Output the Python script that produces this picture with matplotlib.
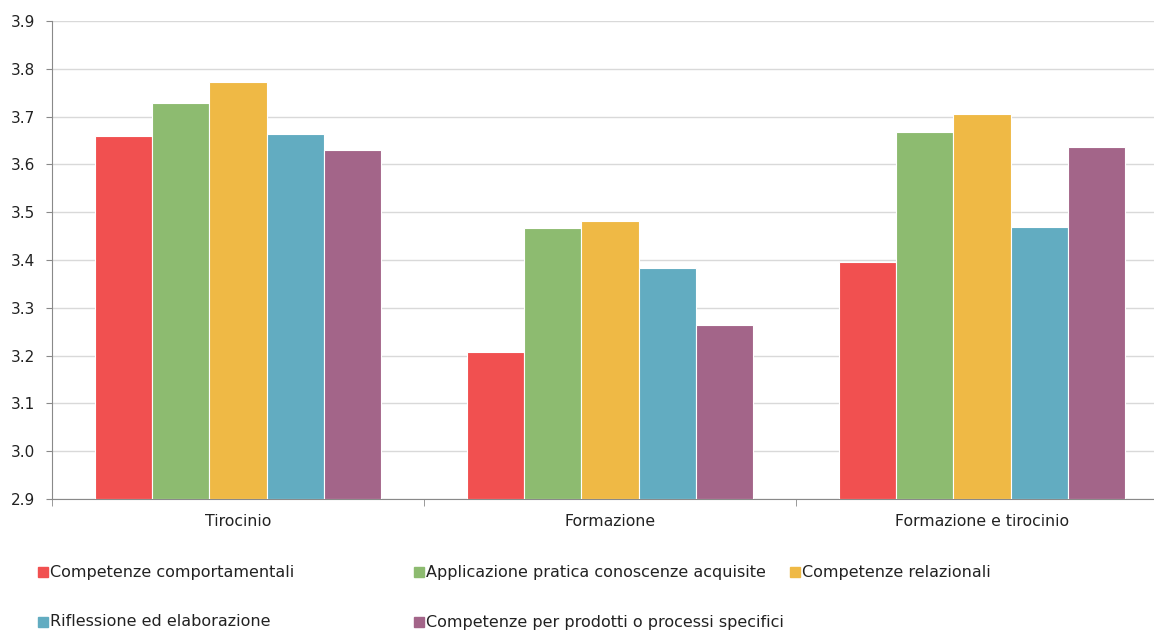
import numpy as np
import matplotlib
matplotlib.use("Agg")
import matplotlib.pyplot as plt
from matplotlib.patches import Rectangle

categories = ["Tirocinio", "Formazione", "Formazione e tirocinio"]
series_names = [
    "Competenze comportamentali",
    "Applicazione pratica conoscenze acquisite",
    "Competenze relazionali",
    "Riflessione ed elaborazione",
    "Competenze per prodotti o processi specifici",
]
comportamentali = [3.659, 3.207, 3.396]
applicazione = [3.728, 3.467, 3.668]
relazionali = [3.772, 3.482, 3.705]
riflessione = [3.664, 3.383, 3.469]
prodotti = [3.630, 3.264, 3.636]
colors = ["#F15050", "#8DBB70", "#EFB945", "#62ACC1", "#A36589"]
yticks = [2.9, 3.0, 3.1, 3.2, 3.3, 3.4, 3.5, 3.6, 3.7, 3.8, 3.9]


def main():
    W, H = 1154, 630
    fig = plt.figure(figsize=(W / 100, H / 100), dpi=100)
    ax = fig.add_axes([52 / W, 1 - 499 / H, 1116 / W, 478 / H])

    values = [comportamentali, applicazione, relazionali, riflessione, prodotti]
    x = np.arange(len(categories))
    width = 0.154
    for i, (vals, col) in enumerate(zip(values, colors)):
        ax.bar(x + (i - 2) * width, np.array(vals) - 2.9, width, bottom=2.9,
               color=col, edgecolor="white", linewidth=0.8, zorder=3)

    ax.set_ylim(2.9, 3.9)
    ax.set_xlim(-0.5, 2.5)
    ax.set_yticks(yticks)
    ax.set_yticklabels([f"{t:.1f}" for t in yticks])
    ax.yaxis.grid(True, color="#D9D9D9", linewidth=1, zorder=0)

    ax.set_xticks(x)
    ax.set_xticklabels(categories)
    ax.set_xticks([-0.5, 0.5, 1.5, 2.5], minor=True)
    ax.tick_params(axis="x", which="major", length=0, pad=11, labelsize=11.3, colors="#222222")
    ax.tick_params(axis="x", which="minor", length=5, color="#898989")
    ax.tick_params(axis="y", length=4, color="#898989", labelsize=11, labelcolor="#222222", pad=8)

    for s in ["top", "right"]:
        ax.spines[s].set_visible(False)
    ax.spines["left"].set_color("#898989")
    ax.spines["bottom"].set_color("#898989")

    # legend laid out on a fixed grid like the original
    for i, (name, col) in enumerate(zip(series_names, colors)):
        px = 38 + (i % 3) * 376
        py = 572 + (i // 3) * 50
        fig.patches.append(Rectangle((px / W, 1 - (py + 5) / H), 10 / W, 10 / H,
                                     transform=fig.transFigure, color=col))
        fig.text((px + 12) / W, 1 - py / H, name, va="center", ha="left",
                 fontsize=11.5, color="#222222")

    fig.savefig("out.png", dpi=100)


if __name__ == "__main__":
    main()
